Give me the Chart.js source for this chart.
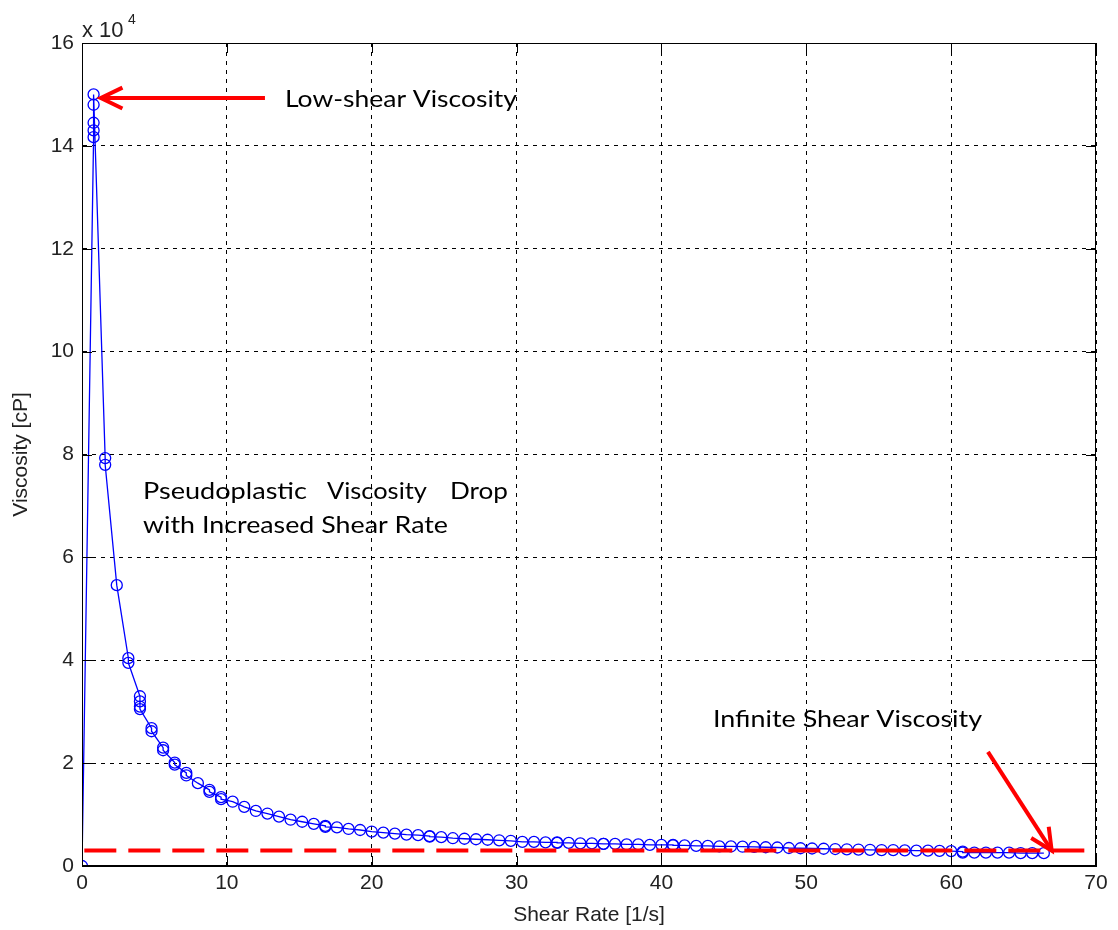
<!DOCTYPE html>
<html>
<head>
<meta charset="utf-8">
<script src="https://cdn.jsdelivr.net/npm/chart.js@4/dist/chart.umd.min.js"></script>
<style>
  html, body { margin: 0; padding: 0; background: #fff; }
  canvas { display: block; }
</style>
</head>
<body>
<canvas id="chart" width="1118" height="930"></canvas>
<script>
// shear rate [1/s] and viscosity [x 10^4 cP]
const shearRate = [0, 0.8, 0.8, 0.8, 0.8, 0.8, 1.6, 1.6, 2.4, 3.2, 3.2, 4.0, 4.0, 4.0, 4.0,
  4.8, 4.8, 5.6, 5.6, 6.4, 6.4, 7.2, 7.2, 8.0, 8.8, 8.8, 9.6, 9.6, 10.4, 11.2, 12.0, 12.8,
  13.6, 14.4, 15.2, 16.0, 16.8, 16.8, 17.6, 18.4, 19.2, 20.0, 20.8, 21.6, 22.4, 23.2, 24.0,
  24.0, 24.8, 25.6, 26.4, 27.2, 28.0, 28.8, 29.6, 30.4, 31.2, 32.0, 32.8, 32.8, 33.6, 34.4,
  35.2, 36.0, 36.0, 36.8, 37.6, 38.4, 39.2, 40.0, 40.8, 40.8, 41.6, 42.4, 43.2, 44.0, 44.8,
  45.6, 46.4, 47.2, 48.0, 48.8, 49.6, 50.4, 51.2, 52.0, 52.8, 53.6, 54.4, 55.2, 56.0, 56.8,
  57.6, 58.4, 59.2, 60.0, 60.8, 60.8, 61.6, 62.4, 63.2, 64.0, 64.8, 65.6, 66.4];
const viscosity = [0, 14.17, 14.3, 14.45, 14.8, 15.0, 7.93, 7.8, 5.46, 4.04, 3.95, 3.3, 3.2,
  3.1, 3.05, 2.68, 2.62, 2.3, 2.25, 2.01, 1.97, 1.81, 1.76, 1.61, 1.48, 1.44, 1.34, 1.3,
  1.25, 1.15, 1.07, 1.02, 0.96, 0.90, 0.86, 0.82, 0.78, 0.76, 0.75, 0.72, 0.70, 0.67, 0.65,
  0.63, 0.61, 0.60, 0.58, 0.57, 0.56, 0.54, 0.53, 0.52, 0.51, 0.50, 0.49, 0.47, 0.47, 0.46,
  0.46, 0.45, 0.45, 0.44, 0.44, 0.43, 0.43, 0.43, 0.42, 0.42, 0.41, 0.41, 0.41, 0.40, 0.40,
  0.39, 0.39, 0.38, 0.38, 0.375, 0.37, 0.365, 0.36, 0.35, 0.345, 0.34, 0.335, 0.33, 0.325,
  0.32, 0.315, 0.31, 0.31, 0.305, 0.30, 0.30, 0.295, 0.29, 0.28, 0.26, 0.26, 0.26, 0.26,
  0.26, 0.25, 0.25, 0.25];

// infinite shear viscosity reference line
const infShear = [0.16, 69.2];
const infViscosity = [0.30, 0.30];

const xTickLabels = ["0", "10", "20", "30", "40", "50", "60", "70"];
const yTickLabels = ["0", "2", "4", "6", "8", "10", "12", "14", "16"];

// annotation arrows [x1, y1, x2, y2] in data units (tail -> tip)
const arrows = [
  [12.63, 14.93, 1.3, 14.93],
  [62.54, 2.22, 66.94, 0.30]
];

const tickFont = { family: "Arial, 'Liberation Sans', sans-serif", size: 21 };
const noteFont = "24px Lato, 'Open Sans', sans-serif";

function fitText(ctx, text, x, y, w) {
  const m = ctx.measureText(text).width;
  ctx.save();
  ctx.translate(x, y);
  ctx.scale(w / m, 1);
  ctx.fillText(text, 0, 0);
  ctx.restore();
}

const decorations = {
  id: "decorations",
  afterDatasetsDraw(chart) {
    const ctx = chart.ctx;
    const xs = chart.scales.x, ys = chart.scales.y;
    const a = chart.chartArea;

    // axes box
    ctx.save();
    ctx.strokeStyle = "#000";
    ctx.lineWidth = 1;
    ctx.strokeRect(a.left + 0.5, a.top + 0.5, a.right - a.left - 1, a.bottom - a.top - 1);

    // inward ticks on all four sides
    ctx.beginPath();
    xs.ticks.forEach(t => {
      const px = Math.round(xs.getPixelForValue(t.value)) + 0.5;
      ctx.moveTo(px, a.bottom); ctx.lineTo(px, a.bottom - 10);
      ctx.moveTo(px, a.top); ctx.lineTo(px, a.top + 10);
    });
    ys.ticks.forEach(t => {
      const py = Math.round(ys.getPixelForValue(t.value)) + 0.5;
      ctx.moveTo(a.left, py); ctx.lineTo(a.left + 10, py);
      ctx.moveTo(a.right, py); ctx.lineTo(a.right - 10, py);
    });
    ctx.stroke();

    // exponent label
    ctx.fillStyle = "#222";
    ctx.font = "22px Arial, 'Liberation Sans', sans-serif";
    ctx.textBaseline = "alphabetic";
    ctx.fillText("x 10", a.left, 37);
    ctx.font = "14px Arial, 'Liberation Sans', sans-serif";
    ctx.fillText("4", a.left + 46, 24);

    // arrows
    ctx.strokeStyle = "#ff0000";
    ctx.lineWidth = 4;
    ctx.lineCap = "butt";
    arrows.forEach(([x1, y1, x2, y2]) => {
      const p1x = xs.getPixelForValue(x1), p1y = ys.getPixelForValue(y1);
      const p2x = xs.getPixelForValue(x2), p2y = ys.getPixelForValue(y2);
      const ang = Math.atan2(p1y - p2y, p1x - p2x);
      ctx.beginPath();
      ctx.moveTo(p1x, p1y); ctx.lineTo(p2x, p2y);
      ctx.stroke();
      ctx.beginPath();
      ctx.moveTo(p2x + 24 * Math.cos(ang + 0.45), p2y + 24 * Math.sin(ang + 0.45));
      ctx.lineTo(p2x, p2y);
      ctx.lineTo(p2x + 24 * Math.cos(ang - 0.45), p2y + 24 * Math.sin(ang - 0.45));
      ctx.stroke();
    });

    // notes
    ctx.fillStyle = "#000";
    ctx.font = noteFont;
    const px = v => xs.getPixelForValue(v), py = v => ys.getPixelForValue(v);
    fitText(ctx, "Low-shear Viscosity", px(14.01), py(14.75), 232);
    fitText(ctx, "Pseudoplastic", px(4.21), py(7.13), 164);
    fitText(ctx, "Viscosity", px(16.91), py(7.13), 100);
    fitText(ctx, "Drop", px(25.40), py(7.13), 58);
    fitText(ctx, "with Increased Shear Rate", px(4.21), py(6.47), 305);
    fitText(ctx, "Infinite Shear Viscosity", px(43.56), py(2.70), 269);
    ctx.restore();
  }
};

new Chart(document.getElementById("chart"), {
  type: "scatter",
  data: {
    datasets: [
      {
        label: "Infinite shear",
        data: infShear.map((x, i) => ({ x: x, y: infViscosity[i] })),
        showLine: true,
        borderColor: "#ff0000",
        borderWidth: 4,
        borderDash: [32, 12],
        pointRadius: 0
      },
      {
        label: "Viscosity",
        data: shearRate.map((x, i) => ({ x: x, y: viscosity[i] })),
        showLine: true,
        borderColor: "#0000ff",
        borderWidth: 1.3,
        pointStyle: "circle",
        pointRadius: 5.5,
        pointBorderWidth: 1.3,
        pointBorderColor: "#0000ff",
        pointBackgroundColor: "rgba(0,0,0,0)",
        tension: 0
      }
    ]
  },
  options: {
    responsive: false,
    animation: false,
    layout: { padding: { top: 43, right: 22, left: 0, bottom: 0 } },
    plugins: { legend: { display: false }, tooltip: { enabled: false } },
    scales: {
      x: {
        type: "linear",
        min: 0,
        max: 70,
        afterFit: s => { s.height = 64; },
        ticks: {
          stepSize: 10,
          color: "#222",
          font: tickFont,
          padding: 5,
          maxRotation: 0,
          callback: (v, i) => xTickLabels[i]
        },
        grid: { color: "#000", lineWidth: 1, drawTicks: false },
        border: { display: true, color: "#000", width: 1, dash: [4, 5] },
        title: {
          display: true,
          text: "Shear Rate [1/s]",
          color: "#222",
          font: tickFont,
          padding: { top: 0, bottom: 2 }
        }
      },
      y: {
        type: "linear",
        min: 0,
        max: 16,
        afterFit: s => { s.width = 82; },
        ticks: {
          stepSize: 2,
          color: "#222",
          font: tickFont,
          padding: 8,
          callback: (v, i) => yTickLabels[i]
        },
        grid: { color: "#000", lineWidth: 1, drawTicks: false },
        border: { display: true, color: "#000", width: 1, dash: [4, 5] },
        title: {
          display: true,
          text: "Viscosity [cP]",
          color: "#222",
          font: tickFont,
          padding: { top: 9, bottom: 0 }
        }
      }
    }
  },
  plugins: [decorations]
});
</script>
</body>
</html>
